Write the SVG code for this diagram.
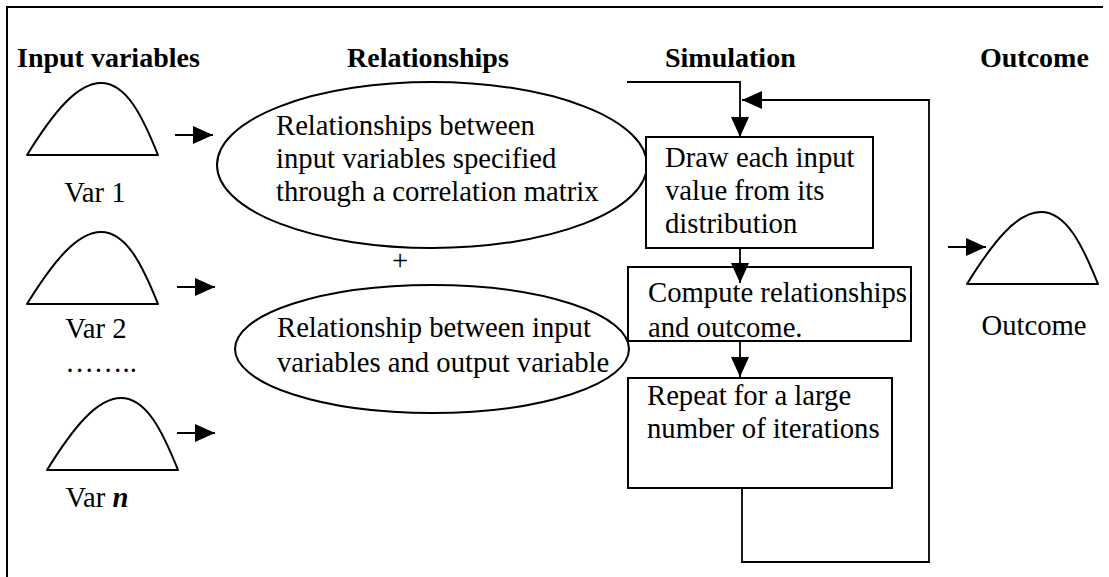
<svg xmlns="http://www.w3.org/2000/svg" width="1109" height="577" viewBox="0 0 1109 577">
  <defs>
    <style>
      text { font-family: 'Liberation Serif', 'Tinos', 'Times New Roman', 'DejaVu Serif', serif; fill: #000; }
      .txt { font-size: 28.7px; }
      .hdr { font-size: 28px; font-weight: bold; }
      .shape { fill: #fff; stroke: #000; stroke-width: 2; }
      .curve { fill: none; stroke: #000; stroke-width: 2; stroke-linejoin: round; }
      .conn { fill: none; stroke: #000; stroke-width: 1.8; }
    </style>
    <marker id="head" markerUnits="userSpaceOnUse" markerWidth="20" markerHeight="18" refX="20" refY="9" orient="auto">
      <path d="M0,0 L20,9 L0,18 Z" fill="#000"/>
    </marker>
    <!-- distribution curve, origin at the left end of its base -->
    <path id="bell" d="M0,0 C26,-42 50,-72 74,-72 C99,-72 115,-40 131,0 Z"/>
  </defs>

  <rect width="1109" height="577" fill="#fff"/>

  <!-- frame -->
  <path d="M7,577 V7 H1103" fill="none" stroke="#000" stroke-width="2"/>

  <!-- column headings -->
  <g id="headings">
    <text class="hdr" x="17" y="67">Input variables</text>
    <text class="hdr" x="347" y="67">Relationships</text>
    <text class="hdr" x="665" y="67">Simulation</text>
    <text class="hdr" x="980" y="67">Outcome</text>
  </g>

  <!-- input distributions -->
  <g id="var1">
    <use href="#bell" class="curve" transform="translate(27,155)"/>
    <text class="txt" x="95" y="202" text-anchor="middle">Var 1</text>
  </g>
  <g id="var2">
    <use href="#bell" class="curve" transform="translate(27,304)"/>
    <text class="txt" x="96" y="338" text-anchor="middle">Var 2</text>
  </g>
  <g id="ellipsis">
    <text class="txt" x="101" y="372" text-anchor="middle">……..</text>
  </g>
  <g id="varn">
    <use href="#bell" class="curve" transform="translate(47,470)"/>
    <text class="txt" x="97" y="507" text-anchor="middle">Var <tspan font-style="italic" font-weight="bold">n</tspan></text>
  </g>

  <!-- relationships -->
  <g id="correlation">
    <ellipse class="shape" cx="432" cy="165" rx="215" ry="83"/>
    <text class="txt">
      <tspan x="276" y="135">Relationships between</tspan>
      <tspan x="276" y="168">input variables specified</tspan>
      <tspan x="276" y="201">through a correlation matrix</tspan>
    </text>
  </g>
  <g id="plus">
    <text class="txt" x="400" y="270" text-anchor="middle">+</text>
  </g>
  <g id="io-relation">
    <ellipse class="shape" cx="432" cy="349" rx="197" ry="64"/>
    <text class="txt">
      <tspan x="277" y="337">Relationship between input</tspan>
      <tspan x="277" y="372">variables and output variable</tspan>
    </text>
  </g>

  <!-- simulation steps -->
  <g id="draw">
    <rect class="shape" x="646" y="137" width="227" height="111"/>
    <text class="txt">
      <tspan x="665" y="167">Draw each input</tspan>
      <tspan x="665" y="200">value from its</tspan>
      <tspan x="665" y="233">distribution</tspan>
    </text>
  </g>
  <g id="compute">
    <rect class="shape" x="628" y="267" width="283" height="74"/>
    <text class="txt">
      <tspan x="648" y="302">Compute relationships</tspan>
      <tspan x="648" y="337">and outcome.</tspan>
    </text>
  </g>
  <g id="repeat">
    <rect class="shape" x="628" y="378" width="264" height="110"/>
    <text class="txt">
      <tspan x="647" y="405">Repeat for a large</tspan>
      <tspan x="647" y="438">number of iterations</tspan>
    </text>
  </g>

  <!-- outcome distribution -->
  <g id="outcome">
    <use href="#bell" class="curve" transform="translate(967,284)"/>
    <text class="txt" x="1034" y="335" text-anchor="middle">Outcome</text>
  </g>

  <!-- connectors -->
  <g id="connectors">
    <path class="conn" d="M175,135 H213" marker-end="url(#head)"/>
    <path class="conn" d="M177,287 H215" marker-end="url(#head)"/>
    <path class="conn" d="M177,433 H215" marker-end="url(#head)"/>
    <path class="conn" d="M948,247 H986" marker-end="url(#head)"/>
    <path class="conn" d="M627,82 H740 V137" marker-end="url(#head)"/>
    <path class="conn" d="M740,248 V283" marker-end="url(#head)"/>
    <path class="conn" d="M740,341 V377" marker-end="url(#head)"/>
    <path class="conn" d="M742,488 V562 H929 V100 H742" marker-end="url(#head)"/>
  </g>
</svg>
